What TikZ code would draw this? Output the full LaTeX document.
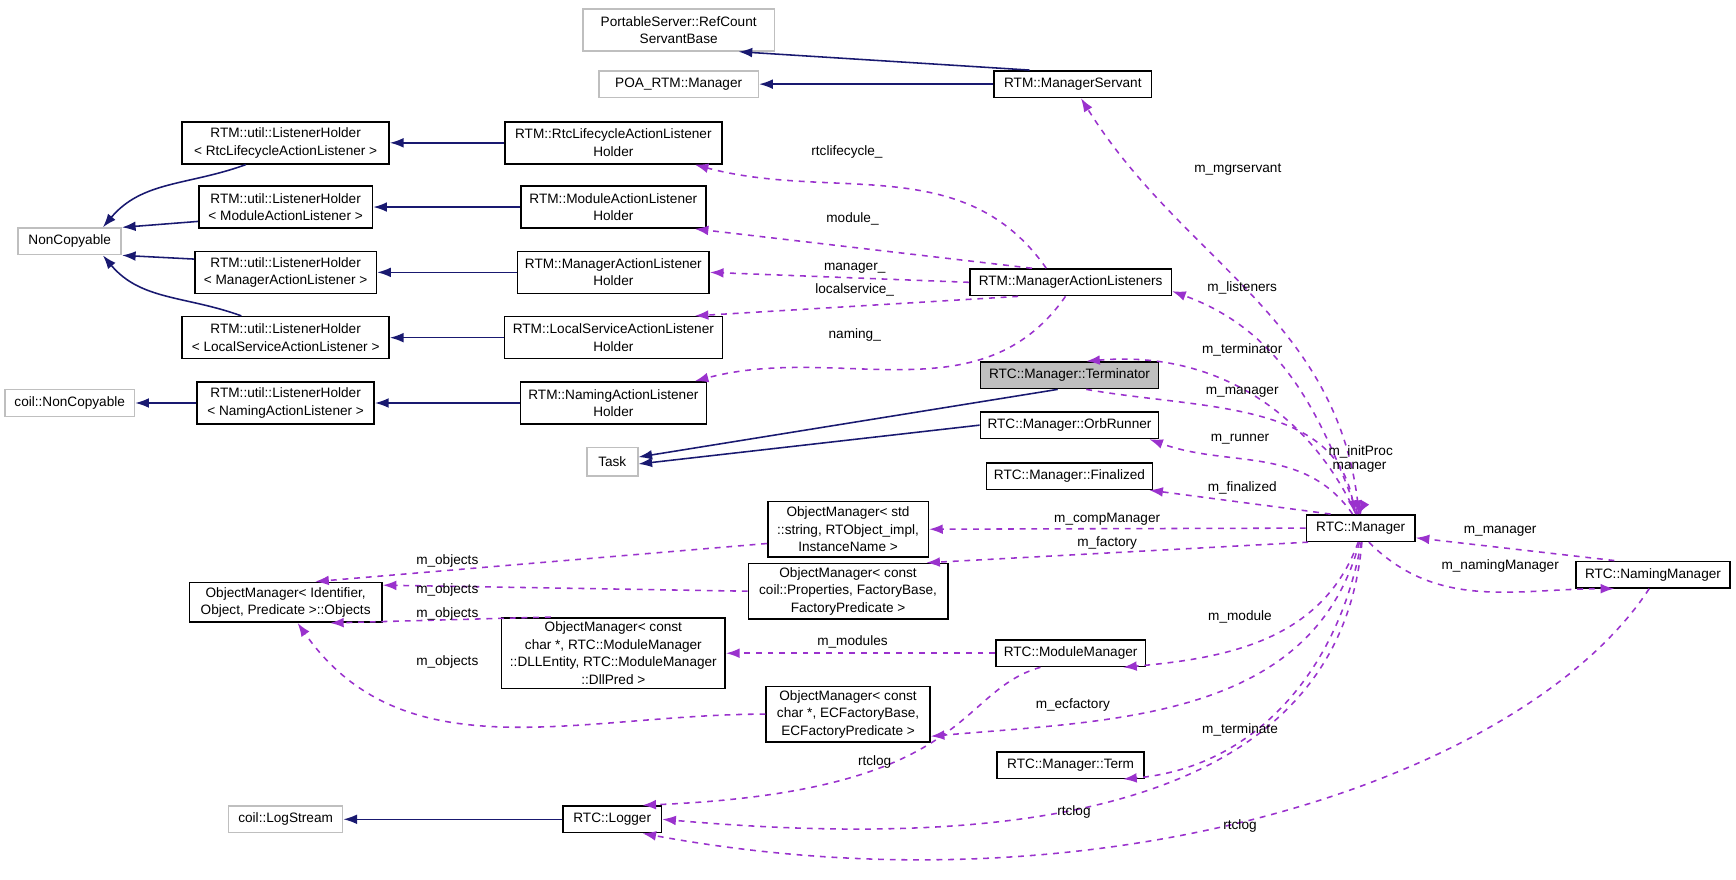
\documentclass[tikz,border=0pt]{standalone}
\usepackage{fontspec}
\setmainfont{Liberation Sans}
\usetikzlibrary{arrows.meta}
\definecolor{navy}{HTML}{191970}
\definecolor{dpurple}{HTML}{9A32CD}
\begin{document}
\begin{tikzpicture}[x=0.02cm, y=-0.02cm, font=\fontsize{7}{9}\selectfont]
		\tikzset{cls/.style={rectangle,draw=black,thick,fill=white,align=center,inner sep=1pt,minimum height=24*0.02cm}}
		\tikzset{ext/.style={cls,draw=black!25}}
		\tikzset{lbl/.style={inner sep=0.5pt}}
		\tikzset{inh/.style={draw=navy,thick,-{Latex[length=7pt,width=5pt]}}}
		\tikzset{use/.style={draw=dpurple,thick,dashed,-{Latex[length=7pt,width=5pt]}}}
		\useasboundingbox (0,0) rectangle (1568,794);
		% bases
		\node[ext,minimum width=173*0.02cm,minimum height=38*0.02cm](refcnt)at (613,27){PortableServer::RefCount\\ServantBase};
		\node[ext,minimum width=144*0.02cm](poa)at (613,76){POA\_RTM::Manager};
		\node[cls,minimum width=142*0.02cm](mgrsrv)at (969,76){RTM::ManagerServant};
		\node[ext,minimum width=93*0.02cm](noncp)at (63,218){NonCopyable};
		\node[ext,minimum width=117*0.02cm](coilnc)at (63,364){coil::NonCopyable};
		\node[cls,minimum width=187*0.02cm,minimum height=38*0.02cm](lhrtc)at (258,129){RTM::util::ListenerHolder\\< RtcLifecycleActionListener >};
		\node[cls,minimum width=157*0.02cm,minimum height=38*0.02cm](lhmod)at (258,187){RTM::util::ListenerHolder\\< ModuleActionListener >};
		\node[cls,minimum width=164*0.02cm,minimum height=38*0.02cm](lhmgr)at (258,246){RTM::util::ListenerHolder\\< ManagerActionListener >};
		\node[cls,minimum width=187*0.02cm,minimum height=38*0.02cm](lhloc)at (258,305){RTM::util::ListenerHolder\\< LocalServiceActionListener >};
		\node[cls,minimum width=160*0.02cm,minimum height=38*0.02cm](lhnam)at (258,364){RTM::util::ListenerHolder\\< NamingActionListener >};
		\node[cls,minimum width=196*0.02cm,minimum height=38*0.02cm](hrtc)at (554,129){RTM::RtcLifecycleActionListener\\Holder};
		\node[cls,minimum width=167*0.02cm,minimum height=38*0.02cm](hmod)at (554,187){RTM::ModuleActionListener\\Holder};
		\node[cls,minimum width=173*0.02cm,minimum height=38*0.02cm](hmgr)at (554,246){RTM::ManagerActionListener\\Holder};
		\node[cls,minimum width=197*0.02cm,minimum height=38*0.02cm](hloc)at (554,305){RTM::LocalServiceActionListener\\Holder};
		\node[cls,minimum width=168*0.02cm,minimum height=38*0.02cm](hnam)at (554,364){RTM::NamingActionListener\\Holder};
		\node[cls,minimum width=182*0.02cm](mals)at (967,255){RTM::ManagerActionListeners};
		\node[cls,minimum width=161*0.02cm,fill=black!25](termr)at (966,339){RTC::Manager::Terminator};
		\node[cls,minimum width=161*0.02cm](orb)at (966,384){RTC::Manager::OrbRunner};
		\node[ext,minimum width=46*0.02cm,minimum height=26*0.02cm](task)at (553,417){Task};
		\node[cls,minimum width=150*0.02cm](fin)at (966,430){RTC::Manager::Finalized};
		\node[cls,minimum width=145*0.02cm,minimum height=50*0.02cm](objstd)at (766,478){ObjectManager< std\\::string, RTObject\_impl,\\InstanceName >};
		\node[cls,minimum width=174*0.02cm,minimum height=36*0.02cm](objs)at (258,544){ObjectManager< Identifier,\\Object, Predicate >::Objects};
		\node[cls,minimum width=180*0.02cm,minimum height=50*0.02cm](objprop)at (766,534){ObjectManager< const\\coil::Properties, FactoryBase,\\FactoryPredicate >};
		\node[cls,minimum width=202*0.02cm,minimum height=64*0.02cm](objdll)at (554,590){ObjectManager< const\\char *, RTC::ModuleManager\\::DLLEntity, RTC::ModuleManager\\::DllPred >};
		\node[cls,minimum width=135*0.02cm](modmgr)at (967,590){RTC::ModuleManager};
		\node[cls,minimum width=148*0.02cm,minimum height=50*0.02cm](objecf)at (766,645){ObjectManager< const\\char *, ECFactoryBase,\\ECFactoryPredicate >};
		\node[cls,minimum width=133*0.02cm](term)at (967,691){RTC::Manager::Term};
		\node[ext,minimum width=103*0.02cm](logstr)at (258,740){coil::LogStream};
		\node[cls,minimum width=89*0.02cm](logger)at (553,740){RTC::Logger};
		\node[cls,minimum width=98*0.02cm](mgr)at (1229,477){RTC::Manager};
		\node[cls,minimum width=139*0.02cm](nmgr)at (1493,519){RTC::NamingManager};
		% inheritance
		\draw[inh] (mgrsrv.162) -- (refcnt.-20);
		\draw[inh] (mgrsrv.west) -- (poa.east);
		\draw[inh] (hrtc.west) -- (lhrtc.east);
		\draw[inh] (hmod.west) -- (lhmod.east);
		\draw[inh] (hmgr.west) -- (lhmgr.east);
		\draw[inh] (hloc.west) -- (lhloc.east);
		\draw[inh] (hnam.west) -- (lhnam.east);
		\draw[inh] (lhnam.west) -- (coilnc.east);
		\draw[inh] ([xshift=-36*0.02cm]lhrtc.south) to[out=200,in=50] ([xshift=30*0.02cm]noncp.north);
		\draw[inh] (lhmod.west|-0,200) -- (noncp.15);
		\draw[inh] (lhmgr.west|-0,234) -- (noncp.-15);
		\draw[inh] ([xshift=-40*0.02cm]lhloc.north) to[out=160,in=-50] ([xshift=30*0.02cm]noncp.south);
		\draw[inh] (termr.-130) -- (task.10);
		\draw[inh] (orb.west) -- (task.-5);
		\draw[inh] (logger.west) -- (logstr.east);
		% members
		\draw[use] (mals.150) to[out=125,in=-15] (hrtc.-15);
		\draw[use] (mals.160) -- (hmod.-15);
		\draw[use] (mals.west) -- (hmgr.east);
		\draw[use] (mals.-165) -- (hloc.15);
		\draw[use] (mals.-110) to[out=-125,in=15] (hnam.15);
		\draw[use] (mgr.97) to[out=95,in=-58] (mgrsrv.-60);
		\draw[use] (mgr.102) to[out=110,in=-20] (mals.-5);
		\draw[use] (mgr.108) to[out=115,in=5] (termr.40);
		\draw[use] (termr.-40) to[out=-10,in=100] (mgr.112);
		\draw[use] (mgr.120) to[out=125,in=-20] (orb.-10);
		\draw[use] (mgr.155) -- (fin.-10);
		\draw[use] (mgr.west) -- (objstd.east);
		\draw[use] (mgr.-165) -- (objprop.20);
		\draw[use] (mgr.-100) to[out=-110,in=5] (modmgr.-15);
		\draw[use] (mgr.-95) to[out=-105,in=5] (objecf.-15);
		\draw[use] (mgr.-88) to[out=-100,in=5] (term.-15);
		\draw[use] (mgr.-85) to[out=-95,in=-5] (logger.0);
		\draw[use] (mgr.92) to[out=80,in=60,looseness=9] (mgr.100);
		\draw[use] (mgr.105) to[out=100,in=100,looseness=6] (mgr.95);
		\draw[use] (mgr.-60) to[out=-45,in=180] (nmgr.-160);
		\draw[use] (nmgr.160) -- (mgr.-10);
		\draw[use] (nmgr.-105) .. controls (1380,700) and (1000,830) .. (logger.-25);
		\draw[use] (modmgr.-155) .. controls (862,625) and (880,715) .. (logger.25);
		\draw[use] (modmgr.west) -- (objdll.east);
		\draw[use] (objstd.-170) -- (objs.35);
		\draw[use] (objprop.west) -- (objs.10);
		\draw[use] (objdll.150) -- (objs.-25);
		\draw[use] (objecf.west) to[out=180,in=-55] (objs.-60);
		% member labels
		\node[lbl](lrtc)at (765,137){rtclifecycle\_};
		\node[lbl](lmod)at (770,198){module\_};
		\node[lbl](lmgr)at (772,242){manager\_};
		\node[lbl](lloc)at (772,262){localservice\_};
		\node[lbl](lnam)at (772,303){naming\_};
		\node[lbl](lsrv)at (1118,153){m\_mgrservant};
		\node[lbl](llis)at (1122,260){m\_listeners};
		\node[lbl](lterm)at (1122,316){m\_terminator};
		\node[lbl](lman)at (1122,354){m\_manager};
		\node[lbl](lrun)at (1120,397){m\_runner};
		\node[lbl](linit)at (1229,408){m\_initProc};
		\node[lbl](lmanager)at (1228,422){manager};
		\node[lbl](lfin)at (1122,441){m\_finalized};
		\node[lbl](lcomp)at (1000,469){m\_compManager};
		\node[lbl](lfac)at (1000,490){m\_factory};
		\node[lbl](lmodule)at (1120,557){m\_module};
		\node[lbl](lmods)at (770,580){m\_modules};
		\node[lbl](lecf)at (969,637){m\_ecfactory};
		\node[lbl](lterm2)at (1120,659){m\_terminate};
		\node[lbl](llog1)at (790,688){rtclog};
		\node[lbl](llog2)at (970,733){rtclog};
		\node[lbl](llog3)at (1120,746){rtclog};
		\node[lbl](lman2)at (1355,480){m\_manager};
		\node[lbl](lnmgr)at (1355,511){m\_namingManager};
		\node[lbl](lobj1)at (404,507){m\_objects};
		\node[lbl](lobj2)at (404,533){m\_objects};
		\node[lbl](lobj3)at (404,555){m\_objects};
		\node[lbl](lobj4)at (404,598){m\_objects};
		\end{tikzpicture}
\end{document}
